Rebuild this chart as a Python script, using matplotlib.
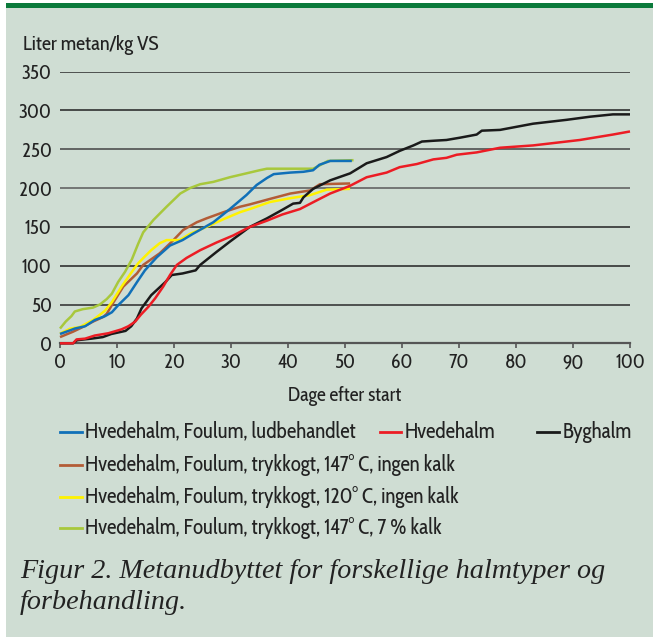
import matplotlib
matplotlib.use("Agg")
import matplotlib.pyplot as plt
from matplotlib.lines import Line2D
from matplotlib.patches import Rectangle
from matplotlib import font_manager as fm

# ---------------- data ----------------
blue_days = [0, 1.5, 2.6, 4.4, 6.1, 7.9, 9.1, 10.2, 12, 13.7, 14.9, 16, 17, 19.3, 21.5, 23.3, 25, 26.9,
             29.8, 32.7, 34.5, 36.3, 37.5, 40.4, 42.7, 44.4, 45.5, 47.4, 51.2]
blue_vals = [12, 16, 19, 22, 30, 35, 40, 49, 62, 81, 94, 103, 111, 126, 133, 141, 148, 156,
             173, 191, 204, 213, 218, 220, 221, 223, 230, 235, 235]

red_days = [0, 2.3, 2.9, 4.4, 6.1, 8.5, 10.8, 12, 13.2, 14.2, 15.5, 16.7, 18.1, 19.3, 20.5, 22.2, 24.6,
            27.5, 30.4, 33.3, 36.3, 39, 42.1, 45, 47.4, 50.9, 53.8, 57.3, 59.6, 62.6, 65.5, 67.8, 69.6,
            73.1, 77.2, 83, 91.2, 97, 100]
red_vals = [0, 0, 5, 6, 10, 13, 18, 22, 28, 37, 47, 58, 73, 88, 101, 110, 120,
            130, 139, 150, 158, 166, 173, 184, 193, 203, 214, 220, 227, 231, 237, 239, 243,
            246, 252, 255, 262, 269, 273]

black_days = [0, 2.3, 3, 5.5, 7.5, 9, 11.5, 12.5, 13.5, 14.3, 16, 18.5, 19.6, 21.5, 23.8, 24.6, 27.5,
              29.8, 33.3, 36.3, 39, 40.9, 42.1, 42.7, 44.4, 47.4, 50.9, 53.8, 57.3, 59.6, 62, 63.5,
              65.5, 67.8, 70.2, 73.1, 74, 77.2, 83, 88.9, 93, 97, 100]
black_vals = [0, 0, 4, 6, 8, 12, 16, 22, 32, 45, 62, 79, 88, 90, 94, 101, 118,
              131, 150, 161, 172, 180, 181, 188, 199, 210, 219, 232, 240, 248, 255, 260,
              261, 262, 265, 269, 274, 275, 283, 288, 292, 295, 295]

brown_days = [0, 2.3, 4, 5.8, 7.6, 8.2, 9.4, 11.1, 13.5, 14.6, 17.5, 19.9, 21.6, 24, 25.7, 28.7,
              31.6, 33.3, 36.8, 40.4, 43.9, 45.6, 50.9]
brown_vals = [8, 15, 21, 28, 34, 38, 53, 73, 90, 101, 116, 133, 146, 156, 161, 169,
              176, 179, 186, 193, 197, 205, 206]

yellow_days = [0, 1.8, 3.5, 5.8, 7.9, 9.1, 10.8, 12.6, 13.7, 14.9, 16, 17.5, 18.7, 21, 22.8, 25.7,
               28.7, 31.6, 33.3, 36.8, 40.4, 43.9, 46.8, 50.9]
yellow_vals = [12.5, 19, 21, 30, 42, 53, 73, 92, 103, 112, 120, 129, 133, 133, 141, 150,
               160, 169, 173, 182, 187, 191, 198, 199]

green_days = [0, 1, 2, 2.6, 4, 5.8, 7, 8.2, 9.1, 10.2, 11.4, 12.6, 13.7, 14.6, 16.4, 18.7, 21.1,
              22.8, 24.6, 26.9, 29.8, 32.7, 35, 36.3, 44.4, 45.5, 47, 51.5]
green_vals = [19, 28, 35, 41, 44, 46, 50, 57, 64, 79, 92, 108, 128, 143, 159, 176, 193,
              200, 205, 208, 214, 219, 223, 225, 225, 229, 235, 236]

labels = ["Hvedehalm, Foulum, ludbehandlet", "Hvedehalm", "Byghalm",
          "Hvedehalm, Foulum, trykkogt, 147° C, ingen kalk",
          "Hvedehalm, Foulum, trykkogt, 120° C, ingen kalk",
          "Hvedehalm, Foulum, trykkogt, 147° C, 7 % kalk"]
x_ticks = [0, 10, 20, 30, 40, 50, 60, 70, 80, 90, 100]
y_ticks = [0, 50, 100, 150, 200, 250, 300, 350]

W, H = 653, 641
fig = plt.figure(figsize=(W / 100, H / 100), dpi=100)
fig.patch.set_facecolor("white")
renderer = fig.canvas.get_renderer()


def text_width(s, fp, size):
    t = fig.text(0, 0, s, fontproperties=fp, fontsize=size)
    w = t.get_window_extent(renderer).width
    t.remove()
    return w


# ---------------- fonts ----------------
def pick_narrow(sample, want_w10):
    cands = []
    for f in fm.fontManager.ttflist:
        n = f.name
        narrow = ("Narrow" in n or "Condensed" in n or "condensed" in str(f.stretch))
        if narrow and f.style == "normal" and f.weight in (400, "normal", "regular"):
            cands.append(f)
    best, bestd = None, 1e9
    for f in cands:
        try:
            fp = fm.FontProperties(fname=f.fname)
            w = text_width(sample, fp, 10)
        except Exception:
            continue
        d = abs(w - want_w10)
        if d < bestd:
            best, bestd = fp, d
    if best is None:
        best = fm.FontProperties(family=["Liberation Sans", "DejaVu Sans"])
    return best


# Reference legend text ~15 pt with a width of ~370 px
SANS = pick_narrow(labels[3], 370 * 10 / 15)
SERIF_IT = fm.FontProperties(family=["Liberation Serif", "DejaVu Serif"], style="italic")


def fit_size(s, fp, target_px, cap=15.5):
    return min(cap, 10 * target_px / text_width(s, fp, 10))


legend_size = fit_size(labels[3], SANS, 370)
axis_size = fit_size("Dage efter start", SANS, 114)
title_size = fit_size("Liter metan/kg VS", SANS, 136)
tick_size = fit_size("350", SANS, 30, cap=17)
cap_size = fit_size("Figur 2. Metanudbyttet for forskellige halmtyper og", SERIF_IT, 585, cap=22)

BG = "#cfddd3"
C_BLUE = "#1070b8"
C_RED = "#ec1c24"
C_BLACK = "#1a1a1a"
C_BROWN = "#b35c36"
C_YELLOW = "#fff200"
C_GREEN = "#a8c83c"
TXT = "#222222"

# panel background and top bar
fig.add_artist(Rectangle((6 / W, 1 - 637 / H), 1 - 6 / W, (637 - 3) / H,
                         transform=fig.transFigure, facecolor=BG, edgecolor="none", zorder=-10))
fig.add_artist(Rectangle((6 / W, 1 - 8 / H), 1 - 6 / W, 5 / H,
                         transform=fig.transFigure, facecolor="#0b7a3b", edgecolor="none", zorder=-9))

ax = fig.add_axes([60 / W, 1 - 343.3 / H, 570 / W, (343.3 - 71.7) / H])
ax.set_facecolor("none")
ax.set_xlim(0, 100)
ax.set_ylim(0, 350)

grid_colors = {50: "#2b2b2b", 100: "#222222", 150: "#222222", 200: "#5a5a5a",
               250: "#444444", 300: "#222222", 350: "#2b2b2b"}
for yv in y_ticks[1:]:
    ax.axhline(yv, color=grid_colors[yv], lw=1.1, zorder=1)

lw = 1.8
series = [
    (green_days, green_vals, C_GREEN),
    (brown_days, brown_vals, C_BROWN),
    (yellow_days, yellow_vals, C_YELLOW),
    (black_days, black_vals, C_BLACK),
    (red_days, red_vals, C_RED),
    (blue_days, blue_vals, C_BLUE),
]
for d, v, c in series:
    ax.plot(d, v, color=c, lw=lw, zorder=5, solid_capstyle="butt", clip_on=False)

for s in ["left", "right", "top"]:
    ax.spines[s].set_visible(False)
ax.spines["bottom"].set_color("#555555")
ax.spines["bottom"].set_linewidth(1.6)
ax.spines["bottom"].set_zorder(4)

ax.set_xticks(x_ticks)
ax.set_yticks(y_ticks)
ax.tick_params(axis="x", length=3.6, width=1.2, color="#555555", pad=3.5)
ax.tick_params(axis="y", length=0, pad=6)
for t in ax.get_xticklabels() + ax.get_yticklabels():
    t.set_fontproperties(SANS)
    t.set_fontsize(tick_size)
    t.set_color(TXT)

fig.text(345 / W, 1 - 396 / H, "Dage efter start", fontproperties=SANS, fontsize=axis_size,
         color=TXT, ha="center", va="center")
fig.text(23 / W, 1 - 45 / H, "Liter metan/kg VS", fontproperties=SANS, fontsize=title_size,
         color=TXT, ha="left", va="center")

# legend (manual)
colors = [C_BLUE, C_RED, C_BLACK, C_BROWN, C_YELLOW, C_GREEN]
pos = [(60, 82, 85, 432), (380, 401, 405, 432), (537, 559, 563, 432),
       (60, 82, 85, 465), (60, 82, 85, 497), (60, 82, 85, 528)]
for lab, col, (x0, x1, xt, yc) in zip(labels, colors, pos):
    fig.add_artist(Line2D([x0 / W, x1 / W], [1 - yc / H, 1 - yc / H], color=col, lw=2.0,
                          transform=fig.transFigure))
    fig.text(xt / W, 1 - yc / H, lab, fontproperties=SANS, fontsize=legend_size, color=TXT,
             ha="left", va="center")

# caption
fig.text(20 / W, 1 - 578 / H, "Figur 2. Metanudbyttet for forskellige halmtyper og",
         fontproperties=SERIF_IT, fontsize=cap_size, color=TXT, ha="left", va="baseline")
fig.text(20 / W, 1 - 609 / H, "forbehandling.",
         fontproperties=SERIF_IT, fontsize=cap_size, color=TXT, ha="left", va="baseline")

fig.savefig("out.png", dpi=100, facecolor="white")
